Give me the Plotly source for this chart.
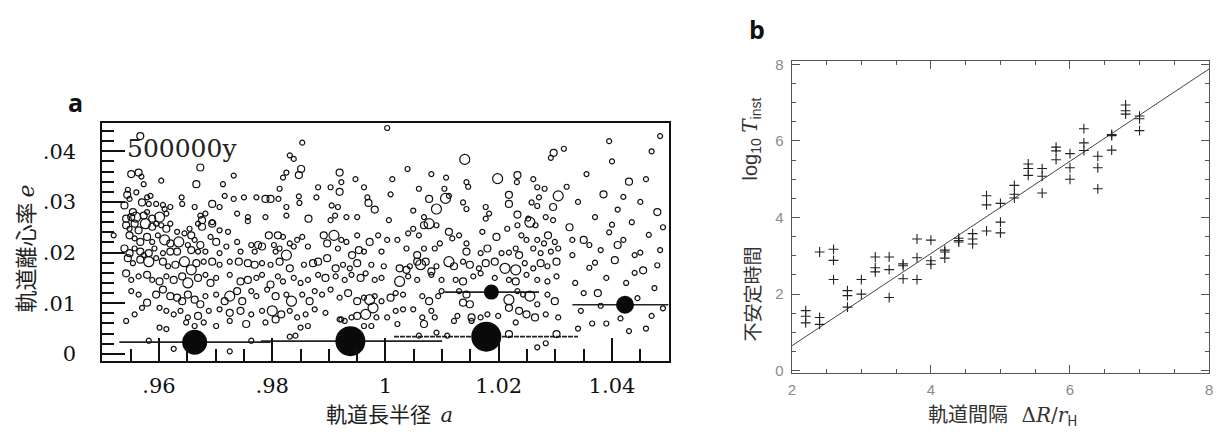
import plotly.graph_objects as go

# ---------------- Panel a data : planetesimals (a, e) ----------------
small_a = [1.0003, .9853, .9831, .9838, .9825, .9569, .9604, .9732, .9713, .9819, .9922, .9947, 1.0012, 1.0039, 1.0081,
           1.0107, 1.0143, 1.0146, 1.0232, 1.0261, 1.0292, 1.0281, 1.0268, .9573, .9881, .9903, .9962, 1.0059, 1.0104,
           .9545, .9548, .9560, .9579, .9585, .9582, .9595, .9607, .9610, .9620, .9640, .9641, .9663, .9707, .9716,
           .9732, .9750, .9772, .9813, .9811, .9825, .9847, .9848, .9878, .9905, .9916, .9968, 1.0009, 1.0049, 1.0112,
           1.0137, 1.0143, 1.0177, 1.0183, 1.0258, 1.0268, 1.0271, .9579, .9613, .9673, .9682, .9694, .9738, .9757,
           .9757, .9788, .9825, .9903, .9911, .9931, .9950, 1.0006, 1.0068, 1.0177, 1.0252, 1.0283, 1.0296, .9548,
           .9595, .9604, .9620, .9632, .9645, .9654, .9669, .9707, .9722, .9557, .9588, .9598, .9651, .9663, .9691,
           .9719, .9738, .9763, .9819, .9831, .9844, .9853, .9803, .9922, .9931, .9950, .9987, 1.0003, 1.0021, 1.0040,
           1.0049, 1.0059, 1.0090, 1.0118, 1.0130, 1.0143, 1.0171, 1.0215, 1.0233, 1.0240, 1.0249, 1.0265, 1.0299,
           1.0268, 1.0280, .9557, .9573, .9592, .9607, .9669, .9682, .9707, .9744, .9769, .9806, .9813, .9838, .9863,
           .9916, .9962, .9993, 1.0037, 1.0068, 1.0087, 1.0096, 1.0168, 1.0205, 1.0218, 1.0230, 1.0261, 1.0274,
           1.0292, 1.0305, .9554, .9595, .9616, .9679, .9707, .9725, .9782, .9797, .9856, .9925, .9937, .9975, .9997,
           1.0043, 1.0090, 1.0137, 1.0165, 1.0246, 1.0261, 1.0286, .9551, .9564, .9588, .9613, .9682, .9701, .9725,
           .9772, .9782, .9810, .9819, .9838, .9850, .9863, .9881, .9912, .9928, .9940, .9965, .9981, .9993, 1.0040,
           1.0056, 1.0081, 1.0099, 1.0124, 1.0155, 1.0168, 1.0193, 1.0218, 1.0249, 1.0268, 1.0286, 1.0302, .9551,
           .9564, .9570, .9682, .9701, .9763, .9772, .9791, .9825, .9853, .9875, .9888, .9903, .9919, .9962, .9981,
           .9993, 1.0018, 1.0031, 1.0065, 1.0093, 1.0099, 1.0130, 1.0233, 1.0243, 1.0268, 1.0286, .9542, .9557,
           .9601, .9613, .9626, .9638, .9651, .9688, .9707, .9763, .9782, .9831, .9844, .9859, .9875, .9894, .9922,
           .9940, .9984, 1.0003, 1.0018, 1.0031, 1.0049, 1.0065, 1.0081, 1.0087, 1.0127, 1.0168, 1.0180, 1.0199,
           1.0283, 1.0305, .9601, .9613, .9648, .9663, .9679, .9701, .9725, .9788, .9831, .9841, .9850, .9863, .9919,
           .9928, .9962, .9975, 1.0021, 1.0059, 1.0090, 1.0109, 1.0121, 1.0152, 1.0230, 1.0268, 1.0283, .9626, .9582,
           .9725, .9763, .9520,
           1.0315, 1.0330, 1.0335, 1.0340, 1.0345, 1.0355, 1.0360, 1.0365, 1.0370, 1.0380, 1.0390, 1.0395, 1.0400,
           1.0410, 1.0415, 1.0420, 1.0425, 1.0435, 1.0440, 1.0445, 1.0450, 1.0460, 1.0465, 1.0470, 1.0475, 1.0485,
           1.0490, 1.0320, 1.0340, 1.0360, 1.0380, 1.0400, 1.0420, 1.0440, 1.0460, 1.0480, 1.0330, 1.0370, 1.0450,
           1.0490, 1.0350, 1.0390, 1.0430, 1.0470, 1.0485, 1.0395]
small_e = [.0446, .0417, .0392, .0385, .0358, .0350, .0342, .0352, .0335, .0348, .0339, .0345, .0345, .0365, .0355,
           .0348, .0339, .0330, .0339, .0345, .0387, .0326, .0329, .0335, .0329, .0329, .0329, .0326, .0326,
           .0324, .0306, .0319, .0309, .0312, .0296, .0296, .0294, .0286, .0290, .0309, .0296, .0290, .0290, .0312,
           .0306, .0309, .0309, .0326, .0306, .0290, .0311, .0298, .0309, .0293, .0290, .0309, .0315, .0283, .0312,
           .0299, .0286, .0290, .0277, .0299, .0292, .0309, .0280, .0277, .0273, .0277, .0260, .0277, .0270,
           .0262, .0270, .0273, .0264, .0273, .0270, .0270, .0264, .0270, .0267, .0267, .0270, .0264, .0247,
           .0257, .0254, .0257, .0241, .0238, .0247, .0257, .0244, .0241, .0228, .0221, .0234, .0215, .0225, .0231,
           .0212, .0221, .0215, .0231, .0218, .0225, .0231, .0215, .0225, .0221, .0234, .0234, .0225, .0225, .0238,
           .0247, .0234, .0254, .0228, .0234, .0218, .0241, .0247, .0254, .0234, .0225, .0254, .0221,
           .0225, .0218, .0208, .0195, .0208, .0199, .0202, .0202, .0199, .0202, .0202, .0202, .0208, .0212, .0212,
           .0208, .0202, .0202, .0208, .0208, .0208, .0218, .0199, .0199, .0200, .0208, .0208, .0199,
           .0202, .0208, .0179, .0189, .0173, .0182, .0176, .0182, .0179, .0176, .0176, .0176, .0169, .0176, .0173,
           .0173, .0173, .0182, .0169, .0179, .0169, .0173, .0146, .0153, .0146, .0153, .0156, .0150, .0156,
           .0150, .0156, .0153, .0143, .0150, .0140, .0146, .0156, .0153, .0146, .0156, .0159, .0146, .0150, .0153,
           .0146, .0156, .0146, .0146, .0153, .0159, .0150, .0146, .0156, .0146, .0143, .0153, .0124,
           .0117, .0091, .0114, .0117, .0124, .0114, .0127, .0117, .0117, .0124, .0117, .0127, .0111, .0111, .0114,
           .0104, .0120, .0117, .0114, .0114, .0124, .0124, .0124, .0117, .0098, .0117, .0065, .0078,
           .0091, .0085, .0078, .0085, .0072, .0085, .0088, .0078, .0085, .0085, .0072, .0078, .0088, .0081, .0068,
           .0072, .0072, .0072, .0085, .0088, .0088, .0072, .0085, .0072, .0075, .0072, .0078, .0075,
           .0078, .0072, .0052, .0049, .0062, .0055, .0062, .0055, .0065, .0062, .0034, .0036, .0052, .0055, .0068,
           .0065, .0055, .0055, .0059, .0036, .0042, .0036, .0065, .0065, .0062, .0013, .0021, .0010, .0026,
           .0005, .0026, .0234,
           .0405, .0195, .0140, .0300, .0085, .0355, .0170, .0060, .0270, .0205, .0150, .0240, .0380,
           .0285, .0070, .0225, .0140, .0260, .0195, .0110, .0300, .0050, .0235, .0400, .0130, .0205,
           .0090, .0330, .0050, .0215, .0095, .0255, .0310, .0160, .0345, .0175, .0225, .0180, .0200,
           .0250, .0120, .0060, .0045, .0075, .0430, .0420]

med_a = [.9567, .9673, .9851, .9551, .9564, .9666, .9847, .9919, 1.0233, 1.0297, .9544, .9570, .9694, .9788, .9797,
         .9864, .9919, .9970, .9981, 1.0077, 1.0218, 1.0218, 1.0233, 1.0296, .9539, .9554, .9573, .9588, .9542,
         .9551, .9676, .9542, .9557, .9564, .9588, .9613, .9657, .9676, .9694, .9548, .9567, .9579, .9620, .9673,
         .9701, .9775, .9794, .9810, .9891, .9897, .9972, 1.0068, 1.0112, 1.0196, 1.0287, .9539, .9548, .9567,
         .9582, .9620, .9632, .9657, .9782, .9941, .9953, 1.0056, 1.0143, 1.0180, 1.0236, .9545, .9567, .9607,
         .9629, .9666, .9694, .9741, .9757, .9769, .9813, .9831, .9872, .9881, .9897, .9912, .9950, 1.0025, 1.0037,
         1.0056, 1.0071, 1.0081, 1.0121, 1.0149, 1.0177, 1.0193, 1.0274, 1.0302, .9542, .9579, .9601, .9626, .9641,
         .9669, .9691, .9744, .9757, .9797, .9894, .9956, 1.0137, 1.0230, .9579, .9595, .9607, .9620, .9632, .9641,
         .9651, .9663, .9673, .9716, .9738, .9747, .9806, .9866, .9934, .9950, 1.0009, 1.0077, 1.0143, 1.0137,
         1.0149, 1.0299, .9669, .9725, .9744, .9816, .9950, 1.0152, 1.0218, 1.0236, 1.0249, 1.0264, .9754, .9806,
         1.0068, 1.0218, 1.0302,
         1.0325, 1.0350, 1.0375, 1.0385, 1.0405, 1.0430, 1.0455, 1.0480, 1.0410]
med_e = [.0430, .0368, .0365, .0355, .0358, .0335, .0353, .0358, .0353, .0397, .0314, .0299, .0296, .0306, .0306,
         .0267, .0320, .0298, .0285, .0306, .0314, .0296, .0275, .0290, .0293, .0280, .0273, .0267, .0267,
         .0270, .0264, .0254, .0257, .0244, .0251, .0247, .0234, .0251, .0257, .0234, .0221, .0231, .0218, .0215,
         .0221, .0215, .0234, .0234, .0234, .0218, .0221, .0254, .0241, .0231, .0234, .0208, .0199, .0202,
         .0199, .0202, .0202, .0205, .0212, .0195, .0205, .0195, .0202, .0208, .0195, .0189, .0186, .0182,
         .0176, .0179, .0182, .0182, .0179, .0176, .0182, .0169, .0179, .0182, .0189, .0169, .0179, .0169, .0166,
         .0182, .0182, .0163, .0173, .0176, .0179, .0182, .0179, .0182, .0159, .0156, .0143, .0146, .0153,
         .0150, .0140, .0143, .0146, .0137, .0150, .0150, .0143, .0143, .0101, .0117, .0127, .0114, .0111, .0104,
         .0117, .0107, .0098, .0104, .0124, .0104, .0114, .0104, .0120, .0104, .0111, .0104, .0117, .0101,
         .0098, .0104, .0075, .0081, .0085, .0078, .0075, .0072, .0091, .0085, .0078, .0072, .0059, .0068,
         .0059, .0039, .0039,
         .0250, .0225, .0120, .0315, .0185, .0340, .0165, .0280, .0215]

large_a = [1.0140, 1.0198, 1.0090, 1.0106, 1.0305, .9559, .9601, .9576, .9610, .9635, .9909, 1.0077, 1.0255, .9582,
           .9645, .9657, .9825, 1.0062, 1.0112, 1.0211, 1.0230, .9651, 1.0025, .9725, .9834, .9972, 1.0218, 1.0255,
           .9800, .9965, .9978]
large_e = [.0384, .0346, .0286, .0307, .0312, .0270, .0270, .0257, .0225, .0221, .0234, .0257, .0260, .0182,
           .0182, .0166, .0195, .0176, .0182, .0169, .0166, .0140, .0143, .0114, .0104, .0107, .0107, .0114,
           .0085, .0078, .0091]

# protoplanets (filled) and their feeding zones
proto_a = [0.9663, 0.9938, 1.0178, 1.0187, 1.0423]
proto_e = [0.0023, 0.0025, 0.0034, 0.0122, 0.0097]
zone_start = [0.9530, 0.9780, 1.0015, 1.0104, 1.0330]
zone_end = [0.9797, 1.0100, 1.0340, 1.0271, 1.0500]
zone_e = [0.0023, 0.0025, 0.0034, 0.0122, 0.0097]

a_tickvals = [0.96, 0.98, 1.00, 1.02, 1.04]
a_ticktext = [".96", ".98", "1", "1.02", "1.04"]
e_tickvals = [0.0, 0.01, 0.02, 0.03, 0.04]
e_ticktext = ["0", ".01", ".02", ".03", ".04"]

# ---------------- Panel b data ----------------
spacing = [2.2, 2.2, 2.2, 2.4, 2.4, 2.4, 2.6, 2.6, 2.6, 2.8, 2.8, 2.8, 3.0, 3.0, 3.2, 3.2, 3.2, 3.4, 3.4, 3.4,
           3.6, 3.6, 3.6, 3.8, 3.8, 3.8, 4.0, 4.0, 4.0, 4.2, 4.2, 4.2, 4.4, 4.4, 4.4, 4.6, 4.6, 4.6, 4.8, 4.8, 4.8,
           5.0, 5.0, 5.0, 5.2, 5.2, 5.2, 5.4, 5.4, 5.4, 5.6, 5.6, 5.6, 5.8, 5.8, 5.8, 6.0, 6.0, 6.0, 6.2, 6.2, 6.2,
           6.4, 6.4, 6.4, 6.6, 6.6, 6.6, 6.8, 6.8, 6.8, 7.0, 7.0, 7.0]
log_t = [1.57, 1.42, 1.25, 3.10, 1.39, 1.21, 3.17, 2.88, 2.38, 2.09, 1.96, 1.66, 2.38, 2.00, 2.97, 2.69, 2.58,
         2.97, 2.64, 1.91, 2.79, 2.74, 2.40, 3.44, 2.95, 2.38, 3.41, 2.87, 2.78, 3.15, 3.10, 2.94, 3.46, 3.40, 3.36,
         3.58, 3.44, 3.31, 4.57, 4.33, 3.65, 4.37, 3.88, 3.60, 4.84, 4.61, 4.51, 5.40, 5.28, 5.10, 5.28, 5.08, 4.64,
         5.84, 5.74, 5.51, 5.67, 5.30, 5.00, 6.32, 5.95, 5.75, 5.60, 5.30, 4.75, 6.17, 6.14, 5.76, 6.94, 6.79, 6.70,
         6.65, 6.58, 6.27]
fit_x = [2.0, 8.0]
fit_y = [0.65, 7.88]

# ---------------- styling ----------------
W, H = 1223, 432
INK = "#111111"
proto_marker_px = [25, 30, 30, 15, 18]
serif = "DejaVu Serif"
jp = "Noto Sans CJK JP"

fig = go.Figure()

for i in range(len(zone_e)):
    fig.add_trace(go.Scatter(
        x=[zone_start[i], zone_end[i]], y=[zone_e[i], zone_e[i]], mode="lines",
        line=dict(color="#222222", width=1.7, dash="5px,1px" if i == 2 else "solid"),
        xaxis="x", yaxis="y", showlegend=False, hoverinfo="skip"))

for xs, ys, sz in [(small_a, small_e, 5.0), (med_a, med_e, 7.0), (large_a, large_e, 10.0)]:
    fig.add_trace(go.Scatter(
        x=xs, y=ys, mode="markers", xaxis="x", yaxis="y", showlegend=False,
        marker=dict(symbol="circle-open", size=sz, color=INK, opacity=1,
                    line=dict(width=1.2, color=INK))))

fig.add_trace(go.Scatter(
    x=proto_a, y=proto_e, mode="markers", xaxis="x", yaxis="y", showlegend=False,
    marker=dict(symbol="circle", size=proto_marker_px, color="#0a0a0a", opacity=1,
                line=dict(width=0))))

fig.add_trace(go.Scatter(
    x=fit_x, y=fit_y, mode="lines", xaxis="x2", yaxis="y2", showlegend=False,
    line=dict(color="#444444", width=1)))
fig.add_trace(go.Scatter(
    x=spacing, y=log_t, mode="markers", xaxis="x2", yaxis="y2", showlegend=False,
    marker=dict(symbol="cross-thin", size=7, color="#222222", opacity=1,
                line=dict(width=1.1, color="#222222"))))

xa_dom = [99 / W, 669 / W]
ya_dom = [1 - 365 / H, 1 - 121 / H]
xb_dom = [793 / W, 1213 / W]
yb_dom = [1 - 378 / H, 1 - 57 / H]

fig.update_layout(
    width=W, height=H, margin=dict(l=0, r=0, t=0, b=0),
    paper_bgcolor="white", plot_bgcolor="white", showlegend=False,
    xaxis=dict(domain=xa_dom, range=[0.95, 1.05], anchor="y",
               tickmode="array", tickvals=a_tickvals, ticktext=a_ticktext,
               ticks="inside", ticklen=23, tickwidth=1.6, tickcolor=INK,
               showline=True, linewidth=2, linecolor=INK, mirror=True,
               showgrid=False, zeroline=False, ticklabelstandoff=5,
               tickfont=dict(family=serif, size=21, color=INK),
               minor=dict(tickmode="linear", tick0=0.95, dtick=0.005, ticks="inside",
                          ticklen=12, tickwidth=1.6, tickcolor=INK, showgrid=False)),
    yaxis=dict(domain=ya_dom, range=[-0.00135, 0.0456], anchor="x",
               tickmode="array", tickvals=e_tickvals, ticktext=e_ticktext,
               ticks="inside", ticklen=23, tickwidth=1.6, tickcolor=INK,
               showline=True, linewidth=2, linecolor=INK, mirror=True,
               showgrid=False, zeroline=False, ticklabelstandoff=20,
               tickfont=dict(family=serif, size=21, color=INK),
               minor=dict(tickmode="linear", tick0=0, dtick=0.002, ticks="inside",
                          ticklen=12, tickwidth=1.6, tickcolor=INK, showgrid=False)),
    xaxis2=dict(domain=xb_dom, range=[2, 8], anchor="y2",
                tickmode="linear", tick0=2, dtick=2,
                ticks="inside", ticklen=8, tickwidth=1, tickcolor="#555555",
                showline=True, linewidth=1.3, linecolor="#555555", mirror="allticks",
                showgrid=False, zeroline=False, ticklabelstandoff=2,
                tickfont=dict(family="Liberation Sans", size=15, color="#8a8a8a"),
                minor=dict(tickmode="linear", tick0=2, dtick=0.5, ticks="inside",
                           ticklen=4, tickwidth=1, tickcolor="#555555", showgrid=False)),
    yaxis2=dict(domain=yb_dom, range=[-0.07, 8.1], anchor="x2",
                tickmode="linear", tick0=0, dtick=2,
                ticks="inside", ticklen=8, tickwidth=1, tickcolor="#555555",
                showline=True, linewidth=1.3, linecolor="#555555", mirror="allticks",
                showgrid=False, zeroline=False, ticklabelstandoff=4,
                tickfont=dict(family="Liberation Sans", size=15, color="#8a8a8a"),
                minor=dict(tickmode="linear", tick0=0, dtick=0.5, ticks="inside",
                           ticklen=4, tickwidth=1, tickcolor="#555555", showgrid=False)),
)


def ann(text, x, y, size, color, family, angle=0, xanchor="center"):
    fig.add_annotation(text=text, x=x / W, y=1 - y / H, xref="paper", yref="paper",
                       showarrow=False, textangle=angle, xanchor=xanchor, yanchor="middle",
                       font=dict(size=size, color=color, family=family))


ann("<b>a</b>", 72, 100, 25, INK, "Open Sans")
ann("<b>b</b>", 758, 25, 25, INK, "Open Sans")
ann("500000y", 122, 147, 25, "#222222", serif, xanchor="left")
ann("軌道長半径&nbsp;&nbsp;<i><span style='font-family:DejaVu Serif'>a</span></i>", 388, 419, 21, "#222222", jp)
ann("軌道離心率&nbsp;<i><span style='font-family:DejaVu Serif'>e</span></i>", 20, 250, 22, "#222222", jp, angle=-90)
ann("軌道間隔&nbsp;&nbsp;&nbsp;<span style='font-family:DejaVu Serif'>Δ<i>R</i>/<i>r</i></span><sub>H</sub>",
    1005, 420, 20, "#333333", jp)
ann("不安定時間", 752, 297, 19, "#333333", jp, angle=-90)
ann("log<sub>10</sub> <span style='font-family:DejaVu Serif'><i>T</i></span><sub>inst</sub>",
    752, 138, 20, "#333333", "Liberation Sans", angle=-90)

fig.write_html("out.html", config={"displayModeBar": False},
               post_script="document.body.style.margin='0px';document.body.style.overflow='hidden';")
